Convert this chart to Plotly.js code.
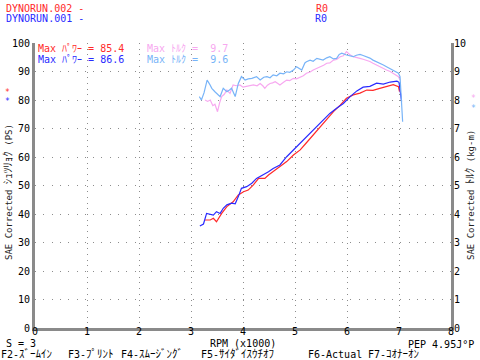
<!DOCTYPE html>
<html>
<head>
<meta charset="utf-8">
<script src="https://cdn.plot.ly/plotly-3.0.1.min.js"></script>
<style>html,body{margin:0;padding:0;background:#fff;}#chart{width:480px;height:360px;}</style>
</head>
<body>
<div id="chart"></div>
<script>
// ---- data (RPM x1000) ----
var rpmPower001 = [3.17,3.24,3.30,3.37,3.43,3.49,3.56,3.62,3.69,3.78,3.85,3.91,3.97,4.07,4.17,4.26,4.39,4.49,4.58,4.71,4.84,4.97,5.08,5.19,5.32,5.42,5.54,5.67,5.80,5.93,6.06,6.19,6.31,6.44,6.57,6.70,6.83,6.96,7.00,7.02,7.05];
var power001    = [35.8,36.5,40.2,40.0,39.6,40.8,40.2,42.0,43.2,43.8,43.6,46.1,49.0,49.6,50.8,52.5,53.7,54.8,56.0,57.2,60.1,62.5,64.5,66.5,69.0,71.0,73.2,75.3,77.1,78.8,81.2,83.2,84.5,84.8,85.9,85.6,86.3,86.6,86.2,83.0,79.5];

var rpmPower002 = [3.27,3.37,3.43,3.49,3.59,3.69,3.81,3.91,4.01,4.10,4.20,4.30,4.42,4.49,4.62,4.74,4.84,4.97,5.10,5.22,5.35,5.48,5.61,5.74,5.87,5.99,6.12,6.25,6.38,6.50,6.63,6.76,6.89,6.99,7.00,7.01];
var power002    = [37.9,37.9,38.5,37.3,40.2,42.6,44.3,46.7,47.8,48.4,50.2,52.5,52.5,53.7,55.4,57.2,58.4,60.7,62.5,65.0,67.7,70.6,73.0,75.9,78.2,80.6,81.8,82.4,83.5,83.4,84.1,84.7,85.4,84.7,83.5,82.9];

var rpmTorque001 = [3.16,3.20,3.25,3.31,3.36,3.40,3.46,3.51,3.56,3.62,3.69,3.74,3.78,3.85,3.91,3.97,4.04,4.10,4.17,4.26,4.33,4.40,4.46,4.52,4.58,4.65,4.71,4.78,4.84,4.90,4.97,5.03,5.08,5.13,5.19,5.22,5.29,5.35,5.42,5.48,5.54,5.61,5.67,5.74,5.80,5.85,5.90,5.99,6.06,6.12,6.18,6.25,6.31,6.38,6.44,6.50,6.57,6.63,6.70,6.76,6.83,6.89,6.95,6.99,7.02,7.04,7.07];
var torque001    = [8.12,8.0,8.25,8.7,8.55,8.41,8.29,8.2,8.12,8.41,8.29,8.35,8.41,8.12,8.58,8.82,8.7,8.74,8.76,8.82,8.7,8.8,8.82,8.78,8.88,8.85,8.94,8.92,8.99,8.97,9.05,9.17,9.1,9.05,9.3,9.34,9.4,9.36,9.46,9.44,9.4,9.48,9.52,9.44,9.46,9.6,9.64,9.58,9.55,9.52,9.57,9.6,9.56,9.52,9.47,9.4,9.35,9.29,9.23,9.17,9.1,9.05,9.0,8.94,8.82,8.07,7.24];

var rpmTorque002 = [3.27,3.32,3.37,3.42,3.46,3.51,3.55,3.59,3.64,3.69,3.75,3.81,3.87,3.94,4.00,4.07,4.13,4.20,4.27,4.33,4.38,4.42,4.47,4.52,4.57,4.62,4.67,4.71,4.78,4.84,4.90,4.97,5.03,5.10,5.16,5.22,5.29,5.35,5.42,5.48,5.55,5.61,5.67,5.74,5.80,5.87,5.93,5.99,6.05,6.12,6.18,6.25,6.31,6.38,6.44,6.50,6.57,6.63,6.70,6.76,6.83,6.89,6.95,6.99,7.02];
var torque002    = [8.0,7.95,8.0,7.8,7.85,7.59,7.9,8.12,8.2,8.35,8.23,8.53,8.5,8.53,8.45,8.47,8.5,8.53,8.5,8.58,8.5,8.41,8.52,8.58,8.6,8.64,8.58,8.53,8.62,8.7,8.68,8.76,8.74,8.8,8.85,8.94,8.98,9.05,9.1,9.17,9.22,9.29,9.3,9.4,9.42,9.52,9.55,9.7,9.6,9.52,9.5,9.46,9.43,9.4,9.35,9.29,9.22,9.17,9.1,9.05,9.0,8.94,8.88,8.82,8.7];

var xTicks  = [0,1,2,3,4,5,6,7,8];
var yTicks  = [0,10,20,30,40,50,60,70,80,90,100];
var y2Ticks = [0,1,2,3,4,5,6,7,8,9,10];

var runNames = ["DYNORUN.002 -", "DYNORUN.001 -"];
var maxPower = ["85.4", "86.6"];
var maxTorque = ["9.7", "9.6"];
var footerKeys = [["F2-", "ｽﾞｰﾑｲﾝ"], ["F3-", "ﾌﾟﾘﾝﾄ"], ["F4-", "ｽﾑｰｼﾞﾝｸﾞ"], ["F5-", "ｻｲﾀﾞｲｽｳﾁｵﾌ"], ["F6-Actual", ""], ["F7-", "ｺｵﾅｰｵﾝ"]];

// ---- styling ----
var RED = "#ff2a2a", BLUE = "#2a2aff", PINK = "#f7a8f0", LBLUE = "#78b4f8";
var FONT = "DejaVu Sans Mono, Noto Sans CJK JP, monospace";
var L = 35, R = 29, T = 43, B = 32, W = 480, H = 360;
function px(x) { return (x - L) / (W - L - R); }
function py(y) { return (H - B - y) / (H - T - B); }
function kana(s, size) { return s ? '<span style="font-size:' + (size || 11) + 'px">' + s + '</span>' : ''; }

var traces = [
  {x: rpmTorque002, y: torque002, yaxis: "y2", mode: "lines", line: {color: PINK, width: 1.2}},
  {x: rpmTorque001, y: torque001, yaxis: "y2", mode: "lines", line: {color: LBLUE, width: 1.2}},
  {x: rpmPower002, y: power002, mode: "lines", line: {color: RED, width: 1.2}},
  {x: rpmPower001, y: power001, mode: "lines", line: {color: BLUE, width: 1.2}}
];

function txt(x, y, text, color, size, anchor, extra) {
  var a = {xref: "paper", yref: "paper", x: px(x), y: py(y), text: text, showarrow: false,
    xanchor: anchor || "left", yanchor: "middle", borderpad: 0,
    font: {family: FONT, size: size || 10, color: color || "#000"}};
  if (extra) for (var k in extra) a[k] = extra[k];
  return a;
}

var footerX = [0, 67, 120, 200, 307, 367];
var ann = [
  txt(5, 8, runNames[0], RED),
  txt(5, 19, runNames[1], BLUE),
  txt(315, 8, "R0", RED),
  txt(314, 19, "R0", BLUE),
  txt(37, 49, "Max ﾊﾟﾜｰ = " + maxPower[0], RED),
  txt(37, 60, "Max ﾊﾟﾜｰ = " + maxPower[1], BLUE),
  txt(146, 49, "Max ﾄﾙｸ =  " + maxTorque[0], PINK),
  txt(146, 60, "Max ﾄﾙｸ =  " + maxTorque[1], LBLUE),
  txt(7, 92, "*", RED, 8, "center"),
  txt(7, 101, "*", BLUE, 8, "center"),
  txt(474, 99, "*", PINK, 8, "center"),
  txt(474, 108, "*", LBLUE, 8, "center"),
  txt(8, 192, "SAE Corrected " + kana("ｼｭﾂﾘｮｸ", 11) + " (PS)", "#222", 9, "center", {textangle: -90}),
  txt(470, 195, "SAE Corrected " + kana("ﾄﾙｸ", 11) + " (kg-m)", "#222", 9, "center", {textangle: -90}),
  txt(5, 343, "S = 3", "#000"),
  txt(243, 343, "RPM (x1000)", "#000", 10, "center"),
  txt(475, 344, "PEP 4.95J°P", "#000", 10, "right")
];
for (var i = 0; i < footerKeys.length; i++) {
  ann.push(txt(footerX[i], 354, footerKeys[i][0] + kana(footerKeys[i][1]), "#000"));
}

var axisCommon = {showline: true, linecolor: "#8a8a8a", linewidth: 3, zeroline: false, ticks: "",
  tickfont: {family: FONT, size: 10, color: "#000"}, fixedrange: true};

var layout = {
  width: W, height: H,
  margin: {l: L, r: R, t: T, b: B, pad: 0},
  paper_bgcolor: "#fff", plot_bgcolor: "#fff",
  showlegend: false, hovermode: false,
  xaxis: Object.assign({}, axisCommon, {range: [0, 8], tickvals: xTicks, showgrid: true,
    gridcolor: "#8c8c8c", gridwidth: 1, griddash: "1px,4.7px", ticklabelstandoff: -8}),
  yaxis: Object.assign({}, axisCommon, {range: [0, 100], tickvals: yTicks, showgrid: true,
    gridcolor: "#8c8c8c", gridwidth: 1, griddash: "1px,7.3px"}),
  yaxis2: Object.assign({}, axisCommon, {range: [0, 10], tickvals: y2Ticks, overlaying: "y", side: "right", showgrid: false, ticklabelstandoff: -2}),
  annotations: ann
};

Plotly.newPlot("chart", traces, layout, {staticPlot: true, displayModeBar: false});
</script>
</body>
</html>
